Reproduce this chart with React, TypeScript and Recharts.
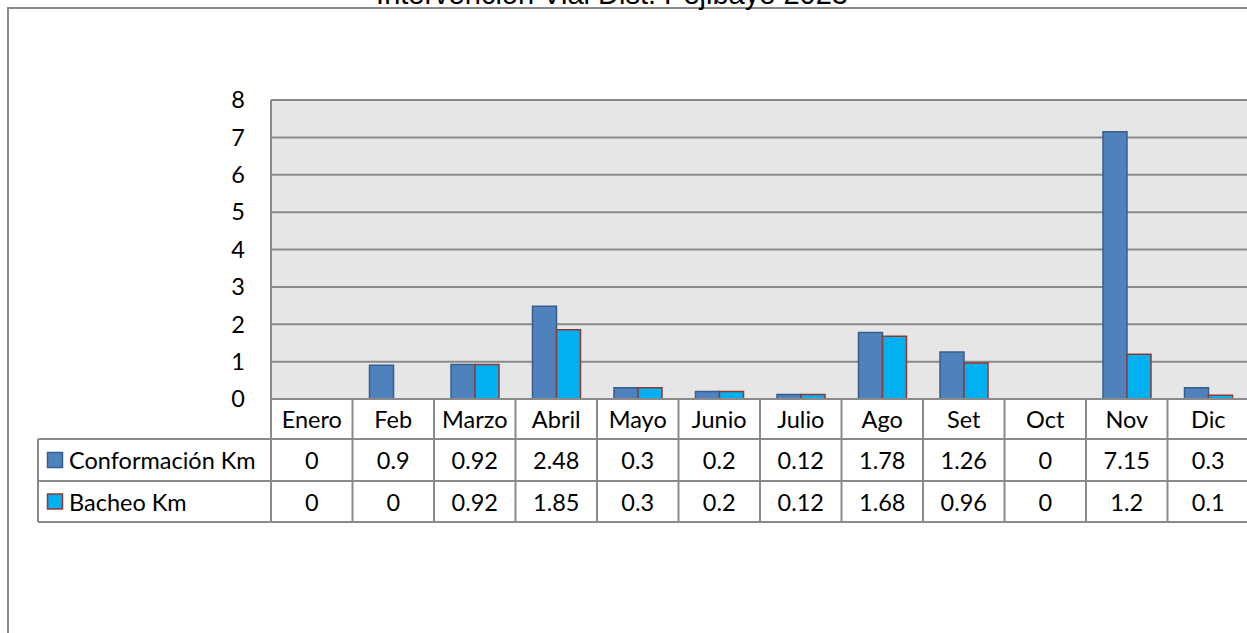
import { Bar, BarChart, CartesianGrid, XAxis, YAxis } from 'recharts'

const months = ['Enero', 'Feb', 'Marzo', 'Abril', 'Mayo', 'Junio', 'Julio', 'Ago', 'Set', 'Oct', 'Nov', 'Dic']
const conformacion = [0, 0.9, 0.92, 2.48, 0.3, 0.2, 0.12, 1.78, 1.26, 0, 7.15, 0.3]
const bacheo = [0, 0, 0.92, 1.85, 0.3, 0.2, 0.12, 1.68, 0.96, 0, 1.2, 0.1]
const yTicks = [0, 1, 2, 3, 4, 5, 6, 7, 8]

const seriesInfo = [
  { key: 'conformacion', name: 'Conformación Km', values: conformacion, fill: '#4f81bd', stroke: '#385d8a' },
  { key: 'bacheo', name: 'Bacheo Km', values: bacheo, fill: '#00b0f0', stroke: '#953735' },
]

const data = months.map((m, i) => ({ month: m, conformacion: conformacion[i], bacheo: bacheo[i] }))

const W = 1249
const H = 633
const plotLeft = 271
const plotTop = 100
const plotBottom = 399
const colW = (W - plotLeft) / months.length
const rowTops = [399, 439, 481, 522]
const legendLeft = 38
const gridColor = '#8a8a8a'
const font = 'Lato, "Noto Sans", sans-serif'
const fontSize = 23.5

function DataTable() {
  const lines = []
  lines.push(<line key="h0" x1={plotLeft} x2={W} y1={rowTops[0]} y2={rowTops[0]} />)
  for (let r = 1; r < rowTops.length; r++) {
    lines.push(<line key={'h' + r} x1={legendLeft} x2={W} y1={rowTops[r]} y2={rowTops[r]} />)
  }
  lines.push(<line key="vl" x1={legendLeft} x2={legendLeft} y1={rowTops[1]} y2={rowTops[3]} />)
  for (let c = 0; c <= months.length; c++) {
    const x = plotLeft + c * colW
    lines.push(<line key={'v' + c} x1={x} x2={x} y1={rowTops[0]} y2={rowTops[3]} />)
  }
  return (
    <svg width={W} height={H} style={{ position: 'absolute', left: 0, top: 0 }}>
      <g stroke={gridColor} strokeWidth={2}>{lines}</g>
      <g fontFamily={font} fontSize={fontSize} fill="#000" textAnchor="middle" dominantBaseline="central">
        {months.map((m, i) => (
          <text key={m} x={plotLeft + colW * (i + 0.5)} y={(rowTops[0] + rowTops[1]) / 2}>
            {m}
          </text>
        ))}
        {seriesInfo.map((s, r) =>
          s.values.map((v, i) => (
            <text key={s.key + i} x={plotLeft + colW * (i + 0.5)} y={(rowTops[r + 1] + rowTops[r + 2]) / 2}>
              {v}
            </text>
          )),
        )}
      </g>
      {seriesInfo.map((s, r) => {
        const cy = (rowTops[r + 1] + rowTops[r + 2]) / 2
        return (
          <g key={s.key}>
            <rect x={47.5} y={cy - 7.5} width={15} height={15} fill={s.fill} stroke={s.stroke} strokeWidth={1.5} />
            <text x={69} y={cy} fontFamily={font} fontSize={fontSize} dominantBaseline="central">
              {s.name}
            </text>
          </g>
        )
      })}
    </svg>
  )
}

export default function App() {
  return (
    <div
      style={{
        position: 'absolute',
        left: 0,
        top: 0,
        width: 1247,
        height: H,
        overflow: 'hidden',
        background: '#fff',
      }}
    >
      <div
        style={{
          position: 'absolute',
          left: 7,
          top: 7,
          width: 1400,
          height: 800,
          border: '2px solid #8a8a8a',
        }}
      />
      <svg width={W} height={30} style={{ position: 'absolute', left: 0, top: 0 }}>
        <text x={612} y={4} textAnchor="middle" fontFamily='"Liberation Sans", Arial, sans-serif' fontSize={29}>
          Intervención Vial Dist. Pejibaye 2023
        </text>
      </svg>
      <div style={{ position: 'absolute', left: 0, top: 0 }}>
        <BarChart
          width={W}
          height={H}
          data={data}
          margin={{ top: plotTop, right: 0, left: 0, bottom: H - plotBottom }}
          barSize={24}
          barGap={0}
        >
          <CartesianGrid vertical={false} stroke={gridColor} strokeWidth={2} fill="#e6e6e6" />
          <XAxis dataKey="month" hide />
          <YAxis
            width={plotLeft}
            domain={[0, 8]}
            ticks={yTicks}
            interval={0}
            tickLine={false}
            tickSize={0}
            tickMargin={26}
            axisLine={{ stroke: gridColor, strokeWidth: 2 }}
            tick={{ fill: '#000', fontSize: fontSize, fontFamily: font }}
          />
          {seriesInfo.map((s) => (
            <Bar
              key={s.key}
              dataKey={s.key}
              name={s.name}
              fill={s.fill}
              stroke={s.stroke}
              strokeWidth={1.5}
              isAnimationActive={false}
            />
          ))}
        </BarChart>
      </div>
      <DataTable />
    </div>
  )
}
